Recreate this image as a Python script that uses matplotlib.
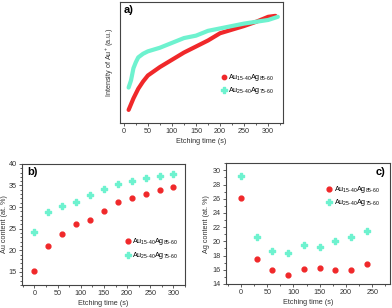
import matplotlib
matplotlib.use('Agg')
import matplotlib.pyplot as plt
from matplotlib.ticker import MultipleLocator

plt.rcParams['font.family'] = ['Liberation Sans', 'DejaVu Sans']
plt.rcParams['mathtext.fontset'] = 'custom'
plt.rcParams['mathtext.rm'] = 'Liberation Sans'
plt.rcParams['mathtext.it'] = 'Liberation Sans:italic'

RED = '#f0282a'
CYAN = '#6ef2cf'
LBL1 = r'Au$_{\mathregular{15\text{-}40}}$Ag$_{\mathregular{85\text{-}60}}$'
LBL2 = r'Au$_{\mathregular{25\text{-}40}}$Ag$_{\mathregular{75\text{-}60}}$'

# panel a: Au+ intensity (arbitrary units)
a_t_red = [10, 20, 30, 40, 50, 75, 100, 125, 150, 175, 200, 225, 250, 275, 300, 315]
a_red = [10.5, 20, 28, 34, 39, 46, 52, 58, 63, 68, 74, 77, 80, 83.5, 87.6, 88.4]
a_t_cyan = [10, 15, 20, 25, 30, 40, 50, 75, 100, 125, 150, 175, 200, 225, 250, 275, 300, 320]
a_cyan = [29, 35, 45, 50, 54, 57, 59, 62, 66, 70, 72, 76, 78, 80, 82, 83.5, 85, 87.6]

# panel b: Au content
b_t = [0, 30, 60, 90, 120, 150, 180, 210, 240, 270, 300]
b_red = [15.2, 20.9, 23.7, 26.0, 27.0, 29.0, 31.1, 32.2, 33.0, 33.9, 34.6]
b_cyan = [24.3, 28.9, 30.2, 31.1, 32.7, 34.1, 35.4, 36.0, 36.8, 37.2, 37.6]

# panel c: Ag content
c_t = [0, 30, 60, 90, 120, 150, 180, 210, 240]
c_red = [26.1, 17.5, 15.9, 15.3, 16.1, 16.3, 16.0, 15.9, 16.8]
c_cyan = [29.2, 20.6, 18.7, 18.3, 19.5, 19.2, 20.0, 20.6, 21.4]

FS = 5.2

fig = plt.figure(figsize=(3.92, 3.08), dpi=100)


def style(ax):
    for s in ax.spines.values():
        s.set_linewidth(0.8)
        s.set_color('#444444')
    ax.tick_params(which='both', direction='out', labelsize=FS, width=0.6,
                   colors='#444444', labelcolor='#333333', pad=1.2)
    ax.tick_params(which='major', length=2.5)
    ax.tick_params(which='minor', length=1.5)


def add_legend(ax, anchor, handles=None):
    kw = dict(loc='center left', bbox_to_anchor=anchor, fontsize=FS,
              frameon=False, handletextpad=0.1, labelspacing=0.35,
              handlelength=1.0, borderaxespad=0)
    if handles:
        kw['handles'] = handles
    ax.legend(**kw)


# a)
ax = fig.add_axes([0.306, 0.602, 0.415, 0.392])
ax.plot(a_t_red, a_red, color=RED, lw=3.0, solid_capstyle='round')
ax.plot(a_t_cyan, a_cyan, color=CYAN, lw=3.0, solid_capstyle='round')
ax.set_xlim(-8, 330)
ax.set_ylim(0, 100)
ax.set_yticks([])
ax.xaxis.set_major_locator(MultipleLocator(50))
ax.xaxis.set_minor_locator(MultipleLocator(25))
ax.set_xlabel('Etching time (s)', fontsize=FS, labelpad=2, color='#333333')
ax.set_ylabel(r'Intensity of Au$^{+}$ (a.u.)', fontsize=FS, labelpad=3, color='#333333')
ax.text(0.02, 0.97, 'a)', transform=ax.transAxes, fontsize=8, fontweight='bold',
        va='top', ha='left')
style(ax)
h1 = ax.scatter([], [], s=10, color=RED, marker='o', label=LBL1)
h2 = ax.scatter([], [], s=14, color=CYAN, marker='P', label=LBL2)
add_legend(ax, (0.6, 0.32), [h1, h2])

# b)
ax = fig.add_axes([0.056, 0.075, 0.416, 0.393])
ax.scatter(b_t, b_red, s=12, color=RED, marker='o', label=LBL1, zorder=3)
ax.scatter(b_t, b_cyan, s=16, color=CYAN, marker='P', label=LBL2, zorder=3)
ax.set_xlim(-27, 325)
ax.set_ylim(12, 40)
ax.xaxis.set_major_locator(MultipleLocator(50))
ax.xaxis.set_minor_locator(MultipleLocator(25))
ax.yaxis.set_major_locator(MultipleLocator(5))
ax.yaxis.set_minor_locator(MultipleLocator(1))
ax.set_xlabel('Etching time (s)', fontsize=FS, labelpad=2, color='#333333')
ax.set_ylabel('Au content (at. %)', fontsize=FS, labelpad=0.5, color='#333333')
ax.text(0.03, 0.97, 'b)', transform=ax.transAxes, fontsize=8, fontweight='bold',
        va='top', ha='left')
style(ax)
add_legend(ax, (0.61, 0.3))

# c)
ax = fig.add_axes([0.576, 0.078, 0.419, 0.392])
ax.scatter(c_t, c_red, s=12, color=RED, marker='o', label=LBL1, zorder=3)
ax.scatter(c_t, c_cyan, s=16, color=CYAN, marker='P', label=LBL2, zorder=3)
ax.set_xlim(-29, 284)
ax.set_ylim(14, 31)
ax.xaxis.set_major_locator(MultipleLocator(50))
ax.xaxis.set_minor_locator(MultipleLocator(25))
ax.yaxis.set_major_locator(MultipleLocator(2))
ax.yaxis.set_minor_locator(MultipleLocator(1))
ax.set_xlabel('Etching time (s)', fontsize=FS, labelpad=2, color='#333333')
ax.set_ylabel('Ag content (at. %)', fontsize=FS, labelpad=2, color='#333333')
ax.text(0.97, 0.97, 'c)', transform=ax.transAxes, fontsize=8, fontweight='bold',
        va='top', ha='right')
style(ax)
add_legend(ax, (0.59, 0.73))

fig.savefig('out.png', dpi=100)
